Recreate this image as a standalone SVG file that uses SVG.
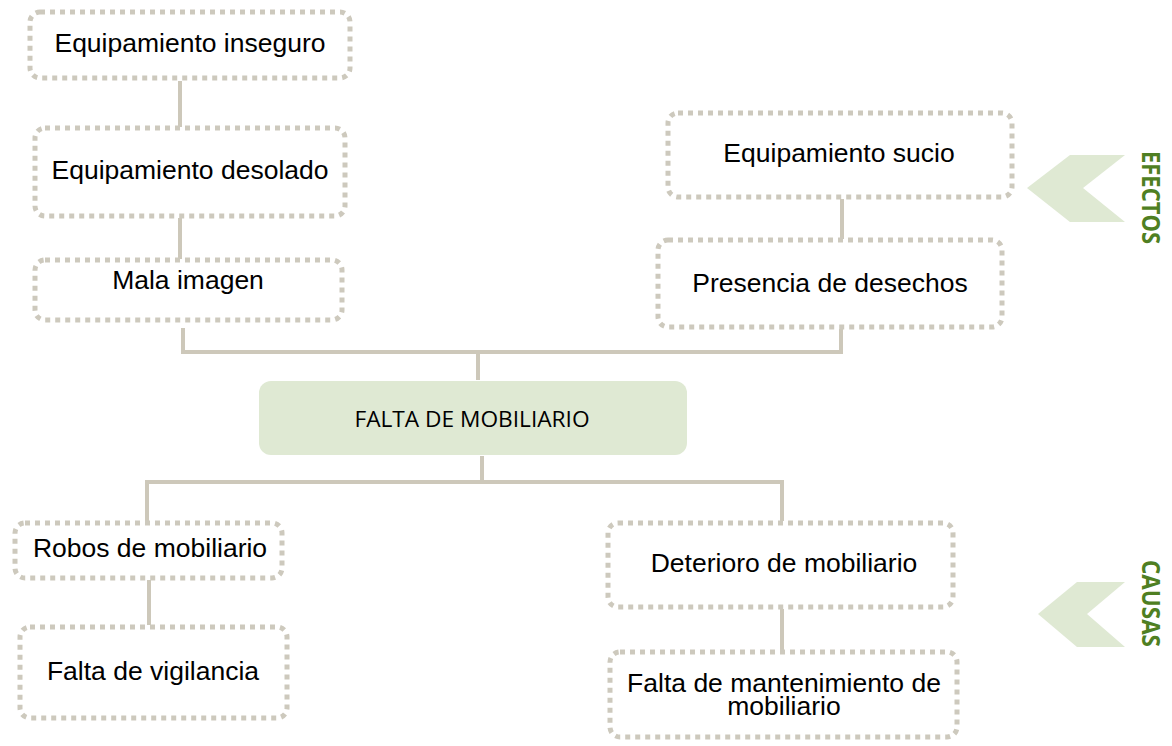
<svg xmlns="http://www.w3.org/2000/svg" width="1172" height="746" viewBox="0 0 1172 746">
<style>
.box{fill:#ffffff;stroke:#cdc9bd;stroke-width:5;stroke-dasharray:5 5;}
.lbl{font-family:"Liberation Sans",Arial,sans-serif;font-size:26.5px;fill:#000;text-anchor:middle;}
.conn{fill:none;stroke:#cdc8ba;stroke-width:4;}
.main{fill:#dfe9d3;}
.mainlbl{font-family:"Open Sans","Liberation Sans",sans-serif;font-size:22.7px;fill:#000;text-anchor:middle;}
.chev{fill:#dfe9d3;}
.side{font-family:"Open Sans","Liberation Sans",sans-serif;font-weight:bold;font-size:25px;fill:#4f7f22;}
</style>
<rect width="1172" height="746" fill="#ffffff"/>
<g id="connectors">
<path class="conn" d="M180 81 V127"/>
<path class="conn" d="M180 218 V259"/>
<path class="conn" d="M183 328 V352 H841 V329"/>
<path class="conn" d="M478 352 V380"/>
<path class="conn" d="M842 199 V239"/>
<path class="conn" d="M482 456 V482"/>
<path class="conn" d="M147 523 V482 H782 V521"/>
<path class="conn" d="M149 580 V625"/>
<path class="conn" d="M782 609 V651"/>
</g>
<g id="n-inseguro"><rect class="box" x="30" y="12" width="320" height="66" rx="10"/><text class="lbl" x="190" y="52">Equipamiento inseguro</text></g>
<g id="n-desolado"><rect class="box" x="35" y="128" width="310" height="88" rx="10"/><text class="lbl" x="190" y="179">Equipamiento desolado</text></g>
<g id="n-mala"><rect class="box" x="35" y="260" width="307" height="60" rx="10"/><text class="lbl" x="188" y="289">Mala imagen</text></g>
<g id="n-sucio"><rect class="box" x="668" y="113" width="344" height="84" rx="10"/><text class="lbl" x="839" y="162">Equipamiento sucio</text></g>
<g id="n-presencia"><rect class="box" x="658" y="240" width="344" height="87" rx="10"/><text class="lbl" x="830" y="292">Presencia de desechos</text></g>
<g id="n-falta"><rect class="main" x="259" y="381" width="428" height="74" rx="12"/><text class="mainlbl" x="472" y="427">FALTA DE MOBILIARIO</text></g>
<g id="n-robos"><rect class="box" x="15" y="523" width="267" height="55" rx="10"/><text class="lbl" x="150" y="557">Robos de mobiliario</text></g>
<g id="n-vigilancia"><rect class="box" x="20" y="627" width="267" height="91" rx="10"/><text class="lbl" x="153" y="680">Falta de vigilancia</text></g>
<g id="n-deterioro"><rect class="box" x="608" y="523" width="345" height="84" rx="10"/><text class="lbl" x="784" y="572">Deterioro de mobiliario</text></g>
<g id="n-mantenimiento"><rect class="box" x="610" y="652" width="347" height="85" rx="10"/><text class="lbl" x="784" y="692">Falta de mantenimiento de</text><text class="lbl" x="784" y="715">mobiliario</text></g>
<g id="efectos">
<polygon class="chev" points="1027,188 1070,155 1125,155 1083,188 1125,222 1070,222"/>
<text class="side" transform="translate(1142,151) rotate(90)" x="0" y="0" textLength="93" lengthAdjust="spacingAndGlyphs">EFECTOS</text>
</g>
<g id="causas">
<polygon class="chev" points="1038,614 1077,582 1125,582 1087,614 1125,647 1077,647"/>
<text class="side" transform="translate(1142,560) rotate(90)" x="0" y="0" textLength="87" lengthAdjust="spacingAndGlyphs">CAUSAS</text>
</g>
</svg>
